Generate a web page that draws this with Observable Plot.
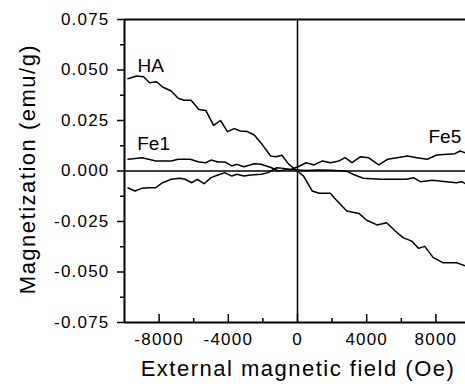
<!DOCTYPE html>
<html><head><meta charset="utf-8">
<script src="https://cdn.jsdelivr.net/npm/d3@7"></script>
<script src="https://cdn.jsdelivr.net/npm/@observablehq/plot@0.6"></script>
<style>
html,body{margin:0;padding:0;background:#fff;}
svg text{font-family:"Liberation Sans",Arial,Helvetica,sans-serif;}
g[font-size="17"] text{letter-spacing:1.2px;}
g[font-size="22"] text{letter-spacing:1.5px;}
</style></head><body><div id="chart"></div>
<script>
// ---- data (field in Oe, magnetization in emu/g) ----
const haField = [-9800,-9300,-8900,-8550,-8150,-7800,-7300,-6900,-6550,-6150,-5700,-5300,-4850,-4450,-4050,-3650,-3300,-2900,-2500,-2050,-1550,-1250,-900,-500,0,350,850,1250,1900,2200,2850,3550,4000,4600,5150,5650,6100,6600,7000,7350,7850,8400,9200,9700];
const haMag = [0.0457,0.0470,0.0467,0.0437,0.0442,0.0416,0.0396,0.0360,0.0350,0.0350,0.0305,0.0300,0.0226,0.0250,0.0195,0.0210,0.0198,0.0195,0.0178,0.0132,0.0074,0.0071,0.0078,0.0033,0.0000,-0.0025,-0.0099,-0.0110,-0.0110,-0.0140,-0.0198,-0.0210,-0.0244,-0.0267,-0.0256,-0.0297,-0.0330,-0.0347,-0.0383,-0.0373,-0.0429,-0.0454,-0.0454,-0.0470];

const fe1Field = [-9800,-9500,-9000,-8600,-8200,-7300,-6900,-6200,-5700,-5300,-5000,-4600,-4200,-3800,-3500,-3100,-2500,-2100,-1500,-1100,-600,0,500,1200,2000,2900,3200,3800,4800,5500,6300,6700,7100,7800,8600,9200,9500,9700];
const fe1Mag = [0.0058,0.0061,0.0066,0.0058,0.0050,0.0050,0.0058,0.0058,0.0045,0.0041,0.0054,0.0045,0.0045,0.0025,0.0033,0.0021,0.0036,0.0033,0.0016,0.0000,0.0008,0.0005,0.0003,0.0005,0.0004,-0.0003,-0.0016,-0.0036,-0.0041,-0.0041,-0.0041,-0.0033,-0.0053,-0.0046,-0.0053,-0.0058,-0.0053,-0.0063];

const fe5Field = [-9800,-9400,-9000,-8600,-8200,-7800,-7300,-6800,-6500,-6100,-5800,-5400,-5000,-4600,-4200,-3800,-3500,-3100,-2700,-2100,-1700,-1200,-800,-400,0,500,950,1450,1900,2400,2750,3150,3650,4100,4700,5200,5750,6350,6900,7500,8050,8650,9100,9400,9700];
const fe5Mag = [-0.0083,-0.0099,-0.0086,-0.0083,-0.0083,-0.0058,-0.0041,-0.0036,-0.0041,-0.0058,-0.0041,-0.0063,-0.0033,-0.0020,-0.0008,-0.0025,-0.0016,-0.0025,-0.0020,-0.0016,-0.0008,0.0016,0.0013,0.0008,0.0020,0.0041,0.0030,0.0050,0.0041,0.0050,0.0066,0.0041,0.0071,0.0066,0.0030,0.0058,0.0066,0.0074,0.0066,0.0058,0.0079,0.0083,0.0086,0.0099,0.0090];

const labelNames = ["HA","Fe1","Fe5"];
const labelField = [-9250,-9265,7570];
const labelMag = [0.0522,0.0136,0.0171];

const xTicks = [-8000,-4000,0,4000,8000];
const xTickLabels = ["-8000","-4000","0","4000","8000"];
const xMinorTicks = [-6000,-2000,2000,6000];
const yTicks = [-0.075,-0.05,-0.025,0,0.025,0.05,0.075];
const yTickLabels = ["-0.075","-0.050","-0.025","0.000","0.025","0.050","0.075"];
const yMinorTicks = [-0.0625,-0.0375,-0.0125,0.0125,0.0375,0.0625];

const xTitle = "External magnetic field (Oe)";
const yTitle = "Magnetization (emu/g)";

// ---- build table ----
const rows = [];
[["HA",haField,haMag],["Fe1",fe1Field,fe1Mag],["Fe5",fe5Field,fe5Mag]].forEach(([s,f,m]) => {
  f.forEach((v,i) => rows.push({series:s, field:v, mag:m[i]}));
});
const labels = labelNames.map((n,i) => ({name:n, field:labelField[i], mag:labelMag[i]}));

const xDomain = [-10000, 9711];
const yDomain = [-0.075, 0.075];

const chart = Plot.plot({
  width: 465,
  height: 384,
  marginLeft: 124,
  marginRight: 0,
  marginTop: 19,
  marginBottom: 62,
  style: {background:"white", color:"black", fontFamily:"'Liberation Sans', Arial, sans-serif", overflow:"visible"},
  x: {domain: xDomain, label: null},
  y: {domain: yDomain, label: null},
  marks: [
    // zero lines
    Plot.ruleY([0], {stroke:"black", strokeWidth:1.5}),
    Plot.ruleX([0], {stroke:"black", strokeWidth:1.5}),
    // frame
    Plot.ruleY([yDomain[1]], {stroke:"black", strokeWidth:2}),
    Plot.ruleY([yDomain[0]], {stroke:"black", strokeWidth:2}),
    Plot.ruleX([xDomain[0]], {stroke:"black", strokeWidth:2}),
    // data
    Plot.line(rows, {x:"field", y:"mag", z:"series", stroke:"black", strokeWidth:1.5, strokeLinejoin:"round"}),
    // annotations
    Plot.text(labels, {x:"field", y:"mag", text:"name", textAnchor:"start", lineAnchor:"middle", fontSize:19, fill:"black"}),
    // x axis ticks (inward) and labels
    Plot.axisX(xTicks, {anchor:"bottom", tickSize:-8, strokeWidth:1.5, fill:"none", tickFormat:() => "", label:null}),
    Plot.axisX(xMinorTicks, {anchor:"bottom", tickSize:-4, strokeWidth:1.5, fill:"none", tickFormat:() => "", label:null}),
    Plot.axisX(xTicks, {anchor:"bottom", tickSize:0, tickPadding:10, fontSize:17, fill:"black",
      tickFormat: d => xTickLabels[xTicks.indexOf(d)], label:null}),
    // y axis ticks (outward) and labels
    Plot.axisY(yTicks, {anchor:"left", tickSize:7, strokeWidth:1.5, tickPadding:8, fontSize:17, fill:"black",
      tickFormat: d => yTickLabels[yTicks.indexOf(d)], label:null}),
    Plot.axisY(yMinorTicks, {anchor:"left", tickSize:4, strokeWidth:1.5, fill:"none", tickFormat:() => "", label:null}),
    // axis titles
    Plot.text([yTitle], {frameAnchor:"left", rotate:-90, dx:-97, dy:-2, fontSize:22, textAnchor:"middle", lineAnchor:"middle", fill:"black"}),
    Plot.text([xTitle], {frameAnchor:"bottom", dx:3, dy:46, fontSize:22, textAnchor:"middle", lineAnchor:"middle", fill:"black"})
  ]
});
document.getElementById("chart").appendChild(chart);
</script></body></html>
